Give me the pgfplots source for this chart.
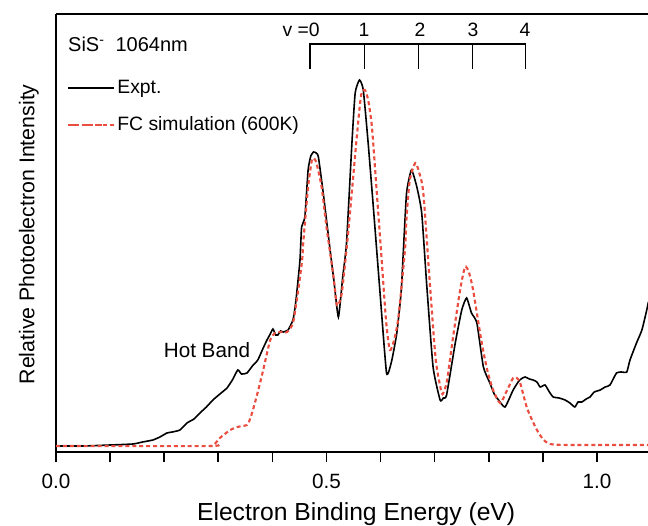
\documentclass[border=0pt]{standalone}
\usepackage{pgfplots}
\pgfplotsset{compat=1.18}
\usepackage{fontspec}
\setmainfont{Liberation Sans}
\definecolor{simred}{RGB}{234,78,64}

\pgfplotstableread{
x y
0.000 6
0.050 6
0.100 7
0.142 8
0.160 10
0.179 12
0.192 15
0.205 19
0.215 20
0.229 22
0.242 29
0.255 33
0.266 39
0.278 45
0.290 52
0.303 58
0.316 64
0.326 72
0.336 82
0.343 78
0.353 79
0.363 86
0.373 92
0.383 104
0.390 112
0.396 118
0.401 123
0.406 117
0.410 117
0.415 121
0.420 120
0.429 122
0.438 132
0.442 145
0.445 159
0.451 192
0.454 225
0.460 235
0.466 282
0.471 296
0.476 300
0.481 299
0.485 295
0.494 259
0.506 205
0.514 170
0.522 135
0.530 175
0.537 209
0.547 309
0.553 359
0.561 372
0.568 362
0.577 309
0.587 242
0.599 159
0.611 79
0.620 90
0.630 119
0.638 160
0.642 200
0.648 259
0.657 282
0.667 265
0.676 239
0.685 169
0.697 85
0.710 52
0.716 54
0.722 57
0.738 109
0.750 142
0.759 154
0.768 139
0.778 129
0.790 85
0.802 69
0.810 58
0.818 52
0.830 45
0.845 62
0.857 72
0.867 75
0.875 73
0.882 72
0.889 70
0.895 65
0.904 67
0.912 60
0.919 55
0.930 54
0.941 52
0.950 49
0.959 45
0.965 50
0.972 50
0.980 53
0.987 55
0.995 60
1.006 62
1.015 65
1.024 67
1.036 79
1.045 80
1.055 80
1.061 92
1.073 109
1.083 122
1.092 142
1.095 150
}\expt

\pgfplotstableread{
x y
0.000 6
0.285 6
0.295 9
0.303 14
0.312 18
0.322 22
0.335 25
0.353 27
0.358 32
0.364 42
0.373 60
0.383 82
0.396 112
0.405 119
0.415 120
0.427 120
0.438 129
0.447 159
0.455 192
0.457 209
0.466 265
0.473 292
0.477 293
0.481 290
0.491 265
0.500 225
0.513 175
0.519 147
0.524 150
0.529 162
0.540 219
0.556 315
0.564 357
0.571 362
0.577 352
0.584 325
0.593 259
0.602 192
0.610 132
0.617 102
0.625 112
0.633 135
0.645 202
0.648 235
0.654 272
0.664 289
0.671 280
0.679 259
0.691 169
0.702 92
0.713 59
0.718 62
0.723 72
0.734 115
0.747 162
0.756 185
0.763 180
0.771 162
0.787 109
0.798 80
0.808 62
0.821 49
0.834 62
0.845 74
0.852 74
0.858 69
0.870 45
0.880 32
0.889 22
0.900 13
0.913 8
0.950 7
1.095 7
}\fcsim

\begin{document}
\begin{tikzpicture}
\useasboundingbox (-42pt,-54.75pt) rectangle (444pt,339pt);
\begin{axis}[
  scale only axis, width=444pt, height=328.5pt,
  xmin=0, xmax=1.0943, ymin=0, ymax=438,
  axis lines=left,
  axis line style={-, line width=1.5pt},
  xtick={0,0.5,1.0},
  minor xtick={0.1,0.2,0.3,0.4,0.6,0.7,0.8,0.9},
  ytick=\empty,
  tick align=outside,
  major tick length=7.5pt, minor tick length=7.5pt,
  every tick/.style={line width=1.2pt, black},
  /pgf/number format/assume math mode=true,
  xticklabel style={/pgf/number format/fixed, /pgf/number format/fixed zerofill,
    /pgf/number format/precision=1, font=\fontsize{15.5}{18}\selectfont, yshift=-5.5pt},
  xlabel={Electron Binding Energy (eV)},
  xlabel style={at={(axis description cs:0.507,-0.1553)}, anchor=base,
    font=\fontsize{18.5}{22}\selectfont},
  ylabel={Relative Photoelectron Intensity},
  ylabel style={at={(axis description cs:-0.046,0.497)}, anchor=center,
    font=\fontsize{16}{19}\selectfont},
  legend style={draw=none, fill=none, at={(axis cs:0.0203,372)}, anchor=north west,
    font=\fontsize{14.5}{17}\selectfont, row sep=16pt, inner sep=0pt,
    nodes={inner sep=0pt}},
  legend cell align=left,
]
\addplot[black, line width=1.2pt, smooth, tension=0.3,
  legend image code/.code={\draw[black, line width=1.2pt] (0pt,0pt) -- (34.5pt,0pt);}]
  table[x=x, y=y] {\expt};
\addlegendentry{Expt.}
\addplot[simred, line width=1.6pt, dash pattern=on 3pt off 2.2pt, smooth, tension=0.4,
  legend image code/.code={\path (0pt,0pt) -- (36pt,0pt);
    \draw[simred, line width=1.6pt, dash pattern=on 5.5pt off 4.5pt] (0pt,0pt) -- (26pt,0pt);}]
  table[x=x, y=y] {\fcsim};
\addlegendentry{FC simulation (600K)}

% vibrational comb
\draw[line width=1.1pt] (axis cs:0.4695,383) -- (axis cs:0.4695,408) -- (axis cs:0.868,408) -- (axis cs:0.868,383);
\draw[line width=1.1pt] (axis cs:0.570,408) -- (axis cs:0.570,383);
\draw[line width=1.1pt] (axis cs:0.670,408) -- (axis cs:0.670,383);
\draw[line width=1.1pt] (axis cs:0.7695,408) -- (axis cs:0.7695,383);
\node[anchor=base east, inner sep=0pt, font=\fontsize{14.5}{17}\selectfont] at (axis cs:0.488,415) {v =0};
\node[anchor=base, inner sep=0pt, font=\fontsize{14.5}{17}\selectfont] at (axis cs:0.5693,415) {1};
\node[anchor=base, inner sep=0pt, font=\fontsize{14.5}{17}\selectfont] at (axis cs:0.673,415) {2};
\node[anchor=base, inner sep=0pt, font=\fontsize{14.5}{17}\selectfont] at (axis cs:0.771,415) {3};
\node[anchor=base, inner sep=0pt, font=\fontsize{14.5}{17}\selectfont] at (axis cs:0.867,415) {4};

\node[anchor=west, inner sep=0pt, font=\fontsize{15}{18}\selectfont] at (axis cs:0.022,408)
  {SiS\textsuperscript{-}\hspace{0.55em}1064nm};
\node[inner sep=0pt, font=\fontsize{15.5}{18}\selectfont] at (axis cs:0.279,102) {Hot Band};
\end{axis}
\draw[line width=1.5pt] (0,328.5pt) -- (444pt,328.5pt);
\end{tikzpicture}
\end{document}
